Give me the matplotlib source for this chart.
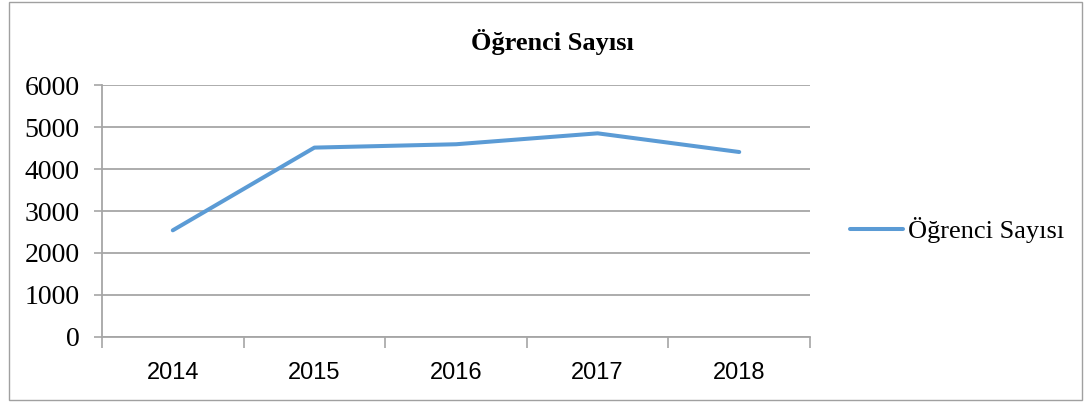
import matplotlib.pyplot as plt
from matplotlib.patches import Rectangle

# data
years = ["2014", "2015", "2016", "2017", "2018"]
ogrenci = [2540, 4510, 4590, 4850, 4405]
y_ticks = [0, 1000, 2000, 3000, 4000, 5000, 6000]

serif = "Liberation Serif"
sans = "Liberation Sans"
grid_col = "#A6A6A6"

fig = plt.figure(figsize=(10.92, 4.05), dpi=100)
ax = fig.add_axes([0.0934, 0.168, 0.6484, 0.622])

x = list(range(len(years)))
ax.plot(x, ogrenci, color="#5B9BD5", linewidth=2.9, solid_capstyle="round",
        label="Öğrenci Sayısı")

ax.set_xlim(-0.5, len(years) - 0.5)
ax.set_ylim(0, 6000)
ax.set_yticks(y_ticks)
ax.set_yticklabels([str(t) for t in y_ticks], fontfamily=serif, fontsize=20)
ax.yaxis.grid(True, color=grid_col, linewidth=1.3)
ax.set_axisbelow(True)

# x ticks between categories, labels centred
ax.set_xticks([i - 0.5 for i in range(len(years) + 1)])
ax.set_xticklabels([])
ax.set_xticks(x, minor=True)
ax.set_xticklabels(years, minor=True, fontfamily=sans, fontsize=17)
ax.tick_params(axis="x", which="major", length=8, color=grid_col, width=1.2)
ax.tick_params(axis="x", which="minor", length=0, pad=18)
ax.tick_params(axis="y", length=6, color=grid_col, width=1.2, pad=10)

for side in ["top", "right"]:
    ax.spines[side].set_visible(False)
ax.spines["left"].set_color(grid_col)
ax.spines["left"].set_linewidth(1.3)
ax.spines["bottom"].set_color(grid_col)
ax.spines["bottom"].set_linewidth(1.3)

fig.text(0.506, 0.896, "Öğrenci Sayısı", ha="center", va="center",
         fontfamily=serif, fontweight="bold", fontsize=19)

ax.legend(loc="center left", bbox_to_anchor=(1.0565, 0.425), frameon=False,
          prop={"family": serif, "size": 19}, handlelength=2.0,
          handletextpad=0.2, borderaxespad=0, borderpad=0)

# outer frame of the chart
fig.add_artist(Rectangle((0.008, 0.012), 0.983, 0.982, transform=fig.transFigure,
                         fill=False, edgecolor="#A0A0A0", linewidth=1.0))

fig.savefig("out.png", dpi=100)
